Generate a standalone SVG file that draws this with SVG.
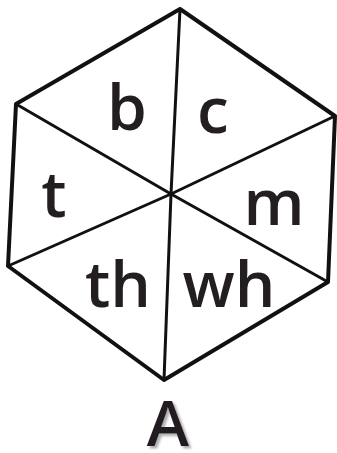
<svg xmlns="http://www.w3.org/2000/svg" width="337" height="453" viewBox="0 0 337 453">
<defs>
<filter id="shadow" x="-20%" y="-20%" width="150%" height="150%">
<feDropShadow dx="2.5" dy="2.5" stdDeviation="0.8" flood-color="#999" flood-opacity="0.8"/>
</filter>
</defs>
<style>
.edge{fill:none;stroke:#111;stroke-width:4;stroke-linejoin:round;stroke-linecap:round}
.spoke{fill:none;stroke:#111;stroke-width:3;stroke-linecap:round}
.lbl{font-family:"Open Sans","Liberation Sans",sans-serif;font-size:64px;font-weight:600;fill:#231f20;text-anchor:middle}
</style>
<rect width="337" height="453" fill="#fff"/>
<g id="connectors">
<line class="spoke" x1="171" y1="194" x2="180" y2="9"/>
<line class="spoke" x1="171" y1="194" x2="335" y2="116"/>
<line class="spoke" x1="171" y1="194" x2="328" y2="282"/>
<line class="spoke" x1="171" y1="194" x2="164" y2="380"/>
<line class="spoke" x1="171" y1="194" x2="8" y2="266"/>
<line class="spoke" x1="171" y1="194" x2="16" y2="104"/>
</g>
<g id="hexagon">
<polygon class="edge" points="180,9 335,116 328,282 164,380 8,266 16,104"/>
</g>
<g id="b"><text class="lbl" x="127" y="130">b</text></g>
<g id="c"><text class="lbl" x="213" y="133">c</text></g>
<g id="t"><text class="lbl" x="54" y="217">t</text></g>
<g id="m"><text class="lbl" x="274" y="225">m</text></g>
<g id="th"><text class="lbl" x="118" y="307">th</text></g>
<g id="wh"><text class="lbl" x="229" y="307">wh</text></g>
<g id="A"><text class="lbl" x="168" y="446" filter="url(#shadow)">A</text></g>
</svg>
